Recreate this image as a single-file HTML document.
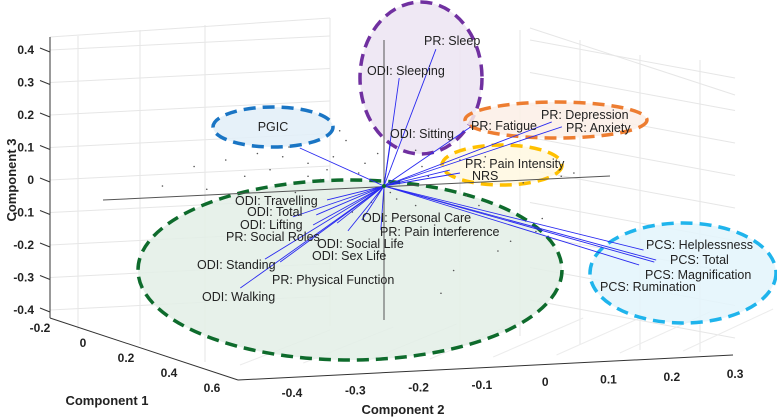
<!DOCTYPE html>
<html><head><meta charset="utf-8"><style>
body{margin:0;background:#fff}
svg{display:block;font-family:"Liberation Sans",Arial,sans-serif}
</style></head><body>
<svg id="chart" width="777" height="417">
<g id="grid"></g>
<g id="ellipses"></g>
<g id="axes"></g>
<g id="dots"></g>
<g id="vecs"></g>
<g id="labels"></g>
</svg>
<script>
// loadings projected: component 2 (horizontal), component 3 (vertical)
const varNames=["PGIC","ODI: Travelling","ODI: Total","ODI: Lifting","PR: Social Roles","ODI: Standing","ODI: Walking","PR: Physical Function","ODI: Social Life","ODI: Sex Life","ODI: Personal Care","PR: Pain Interference","PR: Sleep","ODI: Sleeping","ODI: Sitting","PR: Fatigue","PR: Depression","PR: Anxiety","PR: Pain Intensity","NRS","PCS: Helplessness","PCS: Total","PCS: Magnification","PCS: Rumination"];
const comp2=[-0.133,-0.090,-0.144,-0.107,-0.112,-0.188,-0.227,-0.164,-0.057,-0.074,-0.035,-0.005,0.082,0.024,0.010,0.137,0.265,0.281,0.104,0.120,0.410,0.430,0.427,0.403];
const comp3=[0.117,-0.043,-0.095,-0.089,-0.120,-0.225,-0.314,-0.234,-0.138,-0.114,-0.105,-0.135,0.421,0.332,0.129,0.182,0.197,0.182,0.049,0.040,-0.197,-0.228,-0.234,-0.243];
const labX=[273,235,247,240,226,197,202,272,317,312,362,380,424,367,390,471,541,566,465,472,646,670,645,600];
const labY=[131,205,216,229,241,269,301,284,248,260,222,236,45,75,138,130,119,132,168,180,249,264,279,291];
const labAnchor=["middle","start","start","start","start","start","start","start","start","start","start","start","start","start","start","start","start","start","start","start","start","start","start","start"];
// scores (same projection)
const sc2=[-0.30,-0.25,-0.22,-0.2,-0.18,-0.15,-0.12,-0.1,-0.08,-0.06,-0.04,-0.02,0.02,0.04,0.06,0.08,0.1,0.12,0.15,0.18,0.22,0.25,0.28,-0.28,-0.14,-0.05,0.05,0.13,0.2,-0.2,-0.1,0.0,0.09,0.3,-0.35,0.03,0.16,-0.07,0.11,0.24,-0.09,-0.03,0.01,0.07,-0.12,-0.16,0.05,-0.01];
const sc3=[0.06,0.08,0.03,0.1,0.05,0.12,0.07,0.02,0.09,0.14,0.04,-0.05,-0.04,-0.09,0.06,-0.12,-0.15,0.08,-0.06,-0.2,0.01,-0.1,0.03,-0.01,-0.02,-0.08,0.11,-0.03,-0.17,-0.25,-0.3,-0.2,-0.33,0.04,0.0,0.15,0.09,0.17,-0.26,-0.14,0.05,0.07,-0.02,0.03,0.03,0.09,-0.06,0.1];
const z3Ticks=["0.4","0.3","0.2","0.1","0","-0.1","-0.2","-0.3","-0.4"];
const c1Ticks=["-0.2","0","0.2","0.4","0.6"];
const c2Ticks=["-0.4","-0.3","-0.2","-0.1","0","0.1","0.2","0.3"];
const OX=384,OY=186;
const xS=v=>OX+v*633, yS=v=>OY-v*325;
const NS="http://www.w3.org/2000/svg";
function mk(p,t,a){const e=document.createElementNS(NS,t);for(const k in a)e.setAttribute(k,a[k]);document.getElementById(p).appendChild(e);return e;}
// grid
const g=[[78,36,78,330],[140,30,140,345],[205,25,205,362],[330,18,330,326],[460,26,460,342],[520,30,520,336],[580,40,580,345],[640,55,640,350],[700,60,700,352],[50,37,330,18],[530,28,735,95]];
g.forEach(l=>{const e=mk("grid","line",{x1:l[0],y1:l[1],x2:l[2],y2:l[3],stroke:"#e6e6e6","stroke-width":1});

});
for(let i=0;i<9;i++){const y=50+i*32.5;
 const e=mk("grid","line",{x1:50,y1:y,x2:330,y2:y-14,stroke:"#e6e6e6"});
 
 
 const e2=mk("grid","line",{x1:530,y1:y-10,x2:735,y2:y+28,stroke:"#e6e6e6"});
 
 }
for(let i=0;i<8;i++){const x=290+i*63.3;const e=mk("grid","line",{x1:x-50,y1:365-i*2,x2:x+40,y2:330-i*3,stroke:"#ececec"});

}
// ellipses
const ell=[[421,78,61,76,"#7030a0","#ece4f2","sleep-cluster"],[556,120,91,18,"#ed7d31","#fcefe6","mood-cluster"],[502,165,60,20,"#ffc000","#fff8e0","pain-cluster"],[683,273,93,50,"#1fb4ec","#e3f4fb","pcs-cluster"],[350,270,212,90,"#0e6b2c","#e3eee6","function-cluster"],[273,127,60,20,"#1a75c4","#e2eef8","pgic-cluster"]];
ell.forEach(d=>{const e=mk("ellipses","ellipse",{cx:d[0],cy:d[1],rx:d[2],ry:d[3],fill:d[5],stroke:d[4],"stroke-width":3.5,"stroke-dasharray":"12 7","fill-opacity":0.85});

});
// axes box
const ax=[[50,37,50,318],[50,318,238,380],[238,380,733,355],[384,40,384,320],[103,200,610,176]];
ax.forEach((l,i)=>{const e=mk("axes","line",{x1:l[0],y1:l[1],x2:l[2],y2:l[3],stroke:i>2?"#555":"#333","stroke-width":1});

});
z3Ticks.forEach((t,i)=>{const y=50+i*32.5;
 const l=mk("axes","line",{x1:40,y1:y-2,x2:50,y2:y+2,stroke:"#333"});
 
 
 const e=mk("axes","text",{x:34,y:y+4,"text-anchor":"end","font-size":12,"font-weight":"bold",fill:"#222"});e.textContent=t;
 
 });
c1Ticks.forEach((t,i)=>{const x=40+i*43,y=332+i*15;
 const e=mk("axes","text",{x:x,y:y,"text-anchor":"middle","font-size":12,"font-weight":"bold",fill:"#222"});e.textContent=t;
 
 });
c2Ticks.forEach((t,i)=>{const x=292+i*63.3,y=397-i*2.7;
 const e=mk("axes","text",{x:x,y:y,"text-anchor":"middle","font-size":12,"font-weight":"bold",fill:"#222"});e.textContent=t;
 
 });
[["Component 3",16,180,-90,"z-axis-title"],["Component 1",107,405,0,"x-axis-title"],["Component 2",403,414,0,"y-axis-title"]].forEach(d=>{
 const e=mk("axes","text",{x:d[1],y:d[2],"text-anchor":"middle","font-size":13,"font-weight":"bold",fill:"#222",transform:d[3]?`rotate(${d[3]} ${d[1]} ${d[2]})`:""});e.textContent=d[0];
 
 });
// dots
sc2.forEach((v,i)=>{const e=mk("dots","circle",{cx:xS(v),cy:yS(sc3[i]),r:0.8,fill:"#555"});

});
// vectors
comp2.forEach((v,i)=>{const e=mk("vecs","line",{x1:OX,y1:OY,x2:xS(v),y2:yS(comp3[i]),stroke:"#2a2af0","stroke-width":0.9});


const t=mk("labels","text",{x:labX[i],y:labY[i],"text-anchor":labAnchor[i],"font-size":12.5,fill:"#222"});t.textContent=varNames[i];

});
mk("vecs","circle",{cx:OX,cy:OY,r:2,fill:"#0e6b2c"});
</script>
</body></html>
